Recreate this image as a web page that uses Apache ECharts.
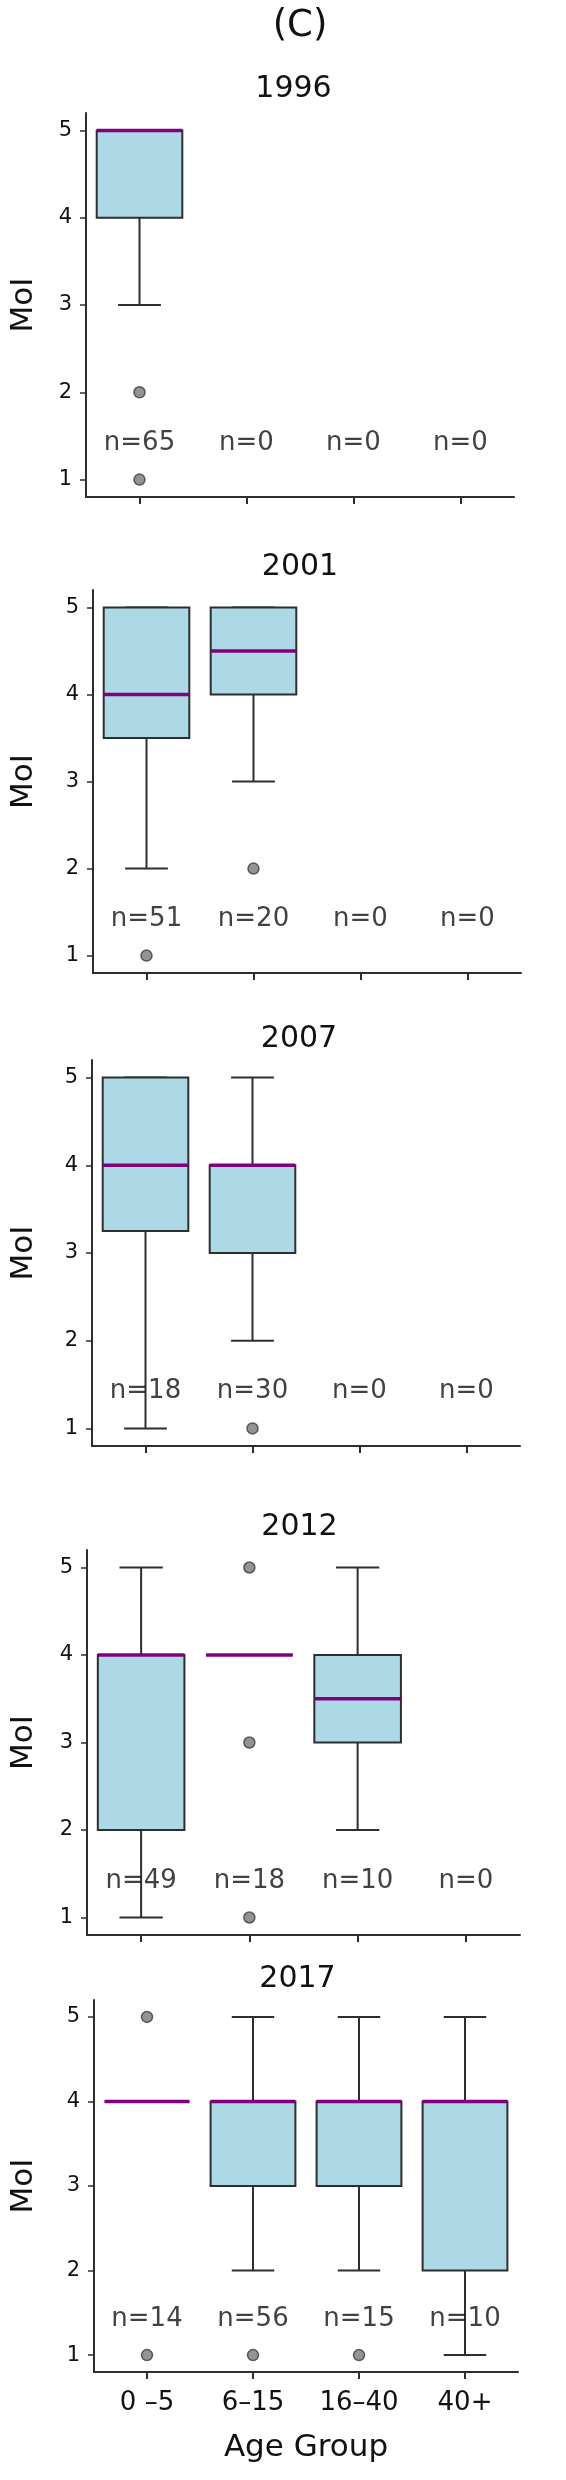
<!DOCTYPE html>
<html>
<head>
<meta charset="utf-8">
<script src="https://cdn.jsdelivr.net/npm/echarts@6/dist/echarts.min.js"></script>
<style>
html,body{margin:0;padding:0;background:#fff;}
#chart{width:566px;height:2480px;}
</style>
</head>
<body>
<div id="chart"></div>
<script>
// ---- data ----
const categories = ['0 –5', '6–15', '16–40', '40+'];
const years = ['1996', '2001', '2007', '2012', '2017'];
const yTicks = [1, 2, 3, 4, 5];

// box stats per age group: [low whisker, Q1, median, Q3, high whisker] (null = no data)
const box1996 = [[3, 4, 5, 5, 5], null, null, null];
const box2001 = [[2, 3.5, 4, 5, 5], [3, 4, 4.5, 5, 5], null, null];
const box2007 = [[1, 3.25, 4, 5, 5], [2, 3, 4, 4, 5], null, null];
const box2012 = [[1, 2, 4, 4, 5], [4, 4, 4, 4, 4], [2, 3, 3.5, 4, 5], null];
const box2017 = [[4, 4, 4, 4, 4], [2, 3, 4, 4, 5], [2, 3, 4, 4, 5], [1, 2, 4, 4, 5]];

// outliers: [age group index, value]
const out1996 = [[0, 2], [0, 1]];
const out2001 = [[0, 1], [1, 2]];
const out2007 = [[1, 1]];
const out2012 = [[1, 5], [1, 3], [1, 1]];
const out2017 = [[0, 5], [0, 1], [1, 1], [2, 1]];

// sample sizes
const n1996 = [65, 0, 0, 0];
const n2001 = [51, 20, 0, 0];
const n2007 = [18, 30, 0, 0];
const n2012 = [49, 18, 10, 0];
const n2017 = [14, 56, 15, 10];

const nLabelValue = 1.42;

// ---- layout ----
const boxes = [box1996, box2001, box2007, box2012, box2017];
const outs = [out1996, out2001, out2007, out2012, out2017];
const ns = [n1996, n2001, n2007, n2012, n2017];
const grids = [
  {left: 73, width: 441, top: 113, height: 384, nameGap: 47, titleY: 89},
  {left: 79, width: 442, top: 590, height: 383, nameGap: 54, titleY: 567},
  {left: 78, width: 442, top: 1060, height: 386, nameGap: 53, titleY: 1039},
  {left: 79, width: 441, top: 1550, height: 385, nameGap: 48, titleY: 1527},
  {left: 77, width: 441, top: 2000, height: 372, nameGap: 55, titleY: 1979}
];

const FONT = 'DejaVu Sans';
const INK = '#111';
const AXIS = '#2e2e2e';

const option = {
  animation: false,
  backgroundColor: '#fff',
  textStyle: {fontFamily: FONT},
  title: [],
  grid: [],
  xAxis: [],
  yAxis: [],
  series: []
};

option.title.push({
  text: '(C)', left: 300, top: 4, textAlign: 'center', padding: 0,
  textStyle: {fontFamily: FONT, fontSize: 37, fontWeight: 'normal', color: INK, lineHeight: 44}
});

grids.forEach((g, i) => {
  const last = i === grids.length - 1;
  option.grid.push({left: g.left, top: g.top, width: g.width, height: g.height, containLabel: false});
  option.title.push({
    text: years[i], left: g.left + g.width / 2, top: g.titleY - 17, textAlign: 'center', padding: 0,
    textStyle: {fontFamily: FONT, fontSize: 30, fontWeight: 'normal', color: INK, lineHeight: 34}
  });
  option.xAxis.push({
    type: 'category', gridIndex: i, data: categories, boundaryGap: true,
    axisLine: {show: true, lineStyle: {color: AXIS, width: 2}},
    axisTick: {show: true, alignWithLabel: true, length: 7, lineStyle: {color: AXIS, width: 2}},
    axisLabel: {show: last, fontSize: 26, color: INK, margin: 18, fontFamily: FONT},
    name: last ? 'Age Group' : '', nameLocation: 'middle', nameGap: 60,
    nameTextStyle: {fontSize: 31, color: INK, fontFamily: FONT},
    splitLine: {show: false}
  });
  option.yAxis.push({
    type: 'value', gridIndex: i, min: 0.8, max: 5.2,
    axisLine: {show: true, lineStyle: {color: AXIS, width: 2}},
    axisTick: {show: true, length: 6, customValues: yTicks, lineStyle: {color: AXIS, width: 1.5}},
    axisLabel: {fontSize: 21, color: INK, margin: 14, customValues: yTicks, fontFamily: FONT},
    splitLine: {show: false},
    name: 'MoI', nameLocation: 'middle', nameGap: g.nameGap,
    nameTextStyle: {fontSize: 31, color: INK, fontFamily: FONT}
  });

  const boxData = [];
  boxes[i].forEach((b, c) => { if (b) boxData.push([c].concat(b)); });

  option.series.push({
    type: 'custom', xAxisIndex: i, yAxisIndex: i, data: boxData, z: 2,
    renderItem: function (params, api) {
      const c = api.value(0);
      const low = api.coord([c, api.value(1)]);
      const q1 = api.coord([c, api.value(2)]);
      const med = api.coord([c, api.value(3)]);
      const q3 = api.coord([c, api.value(4)]);
      const high = api.coord([c, api.value(5)]);
      const band = api.size([1, 0])[0];
      const x = low[0];
      const hw = band * 0.4;
      const cw = band * 0.2;
      const ls = {stroke: AXIS, lineWidth: 2};
      return {
        type: 'group',
        children: [
          {type: 'line', shape: {x1: x, y1: low[1], x2: x, y2: q1[1]}, style: ls},
          {type: 'line', shape: {x1: x, y1: q3[1], x2: x, y2: high[1]}, style: ls},
          {type: 'line', shape: {x1: x - cw, y1: low[1], x2: x + cw, y2: low[1]}, style: ls},
          {type: 'line', shape: {x1: x - cw, y1: high[1], x2: x + cw, y2: high[1]}, style: ls},
          {type: 'rect', shape: {x: x - hw, y: q3[1], width: hw * 2, height: q1[1] - q3[1]},
            style: {fill: '#ADD8E6', stroke: AXIS, lineWidth: 2}},
          {type: 'line', shape: {x1: x - hw, y1: med[1], x2: x + hw, y2: med[1]},
            style: {stroke: '#800080', lineWidth: 3.5}}
        ]
      };
    }
  });

  option.series.push({
    type: 'scatter', xAxisIndex: i, yAxisIndex: i, data: outs[i], z: 3,
    symbol: 'circle', symbolSize: 11,
    itemStyle: {color: 'rgba(105,105,105,0.9)', borderColor: '#3c3c3c', borderWidth: 1.5}
  });

  option.series.push({
    type: 'scatter', xAxisIndex: i, yAxisIndex: i, z: 4, symbolSize: 0,
    data: ns[i].map((n, c) => [c, nLabelValue, n]),
    label: {
      show: true, position: 'inside', fontSize: 26, color: INK, fontFamily: FONT,
      formatter: p => 'n=' + p.value[2]
    }
  });
});

const chart = echarts.init(document.getElementById('chart'), null, {renderer: 'canvas'});
chart.setOption(option);
</script>
</body>
</html>
